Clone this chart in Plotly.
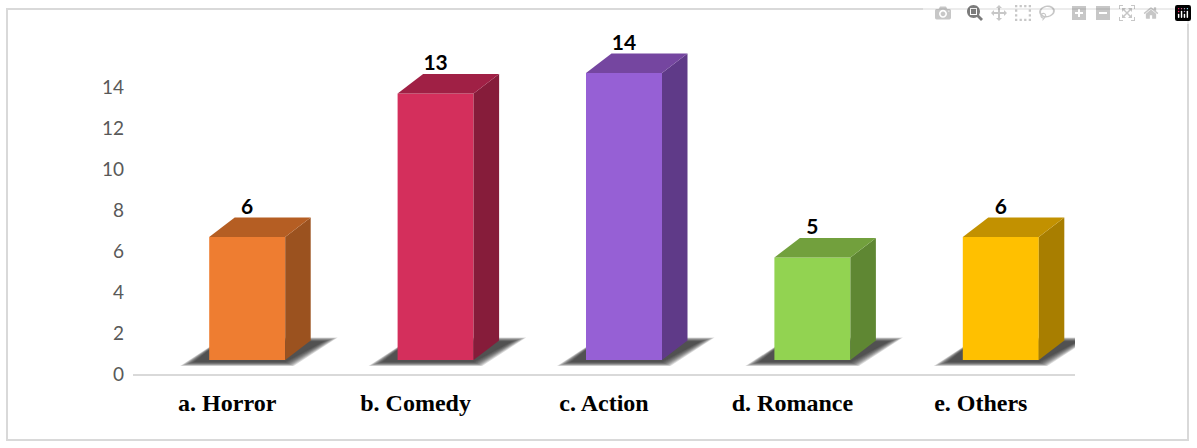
import plotly.graph_objects as go

categories = ["a. Horror", "b. Comedy", "c. Action", "d. Romance", "e. Others"]
values = [6, 13, 14, 5, 6]
front_colors = ["#EE7D31", "#D42F5C", "#9660D5", "#92D351", "#FFC000"]
top_colors = ["#B55E23", "#A02045", "#7546A0", "#72A03D", "#C29100"]
side_colors = ["#9B521F", "#861C3A", "#5F3A88", "#5F8733", "#A87E00"]

W, H = 1197, 448
L, R, T, B = 133, 122, 20, 74
PX_X = (W - L - R) / 5.0       # pixels per category
PX_Y = 20.5                    # pixels per y unit
y_top = (H - B - T) / PX_Y

floor = 14 / PX_Y              # bars stand above the axis line
shift = 20 / PX_X              # front face shift from category centre
half = 38 / PX_X
depth_x = 25.5 / PX_X
depth_y = 19.5 / PX_Y

fig = go.Figure()
shapes = []

def path(pts):
    return "M " + " L ".join(f"{a:.4f},{b:.4f}" for a, b in pts) + " Z"

# blurred floor shadow: stacked translucent parallelograms
layers = 9
for i, v in enumerate(values):
    c = i + shift
    for k in range(layers):
        g = 1 - k / (layers - 1)
        gx = g * 14 / PX_X
        gy = g * 4 / PX_Y
        x0 = c - half - 15 / PX_X
        x1 = c + half
        y0 = floor - 2 / PX_Y
        pts = [
            (x0 - gx, y0 - gy),
            (x1 + gx * 0.6, y0 - gy),
            (x1 + depth_x + 13 / PX_X + gx, y0 + depth_y + 1 / PX_Y + gy),
            (x0 + depth_x + gx * 0.3, y0 + depth_y + 1 / PX_Y + gy),
        ]
        shapes.append(dict(type="path", path=path(pts), xref="x", yref="y", layer="below",
                           fillcolor="rgba(40,40,40,0.17)", line=dict(width=0)))

# front faces
fig.add_trace(go.Bar(
    x=[i + shift for i in range(len(values))],
    y=values,
    base=[floor] * len(values),
    width=2 * half,
    marker=dict(color=front_colors, line=dict(width=0)),
    hoverinfo="skip",
))

# side and top faces
for i, v in enumerate(values):
    c = i + shift
    ytop = floor + v
    fig.add_trace(go.Scatter(
        x=[c + half, c + half + depth_x, c + half + depth_x, c + half, c + half],
        y=[floor, floor + depth_y, ytop + depth_y, ytop, floor],
        mode="lines", fill="toself", fillcolor=side_colors[i],
        line=dict(width=0), hoverinfo="skip",
    ))
    fig.add_trace(go.Scatter(
        x=[c - half, c + half, c + half + depth_x, c - half + depth_x, c - half],
        y=[ytop, ytop, ytop + depth_y, ytop + depth_y, ytop],
        mode="lines", fill="toself", fillcolor=top_colors[i],
        line=dict(width=0), hoverinfo="skip",
    ))

# value labels
fig.add_trace(go.Scatter(
    x=[i + shift for i in range(len(values))],
    y=[v + floor + 1.38 for v in values],
    mode="text",
    text=[str(v) for v in values],
    textposition="middle center",
    textfont=dict(family="Lato", size=21, color="#000000", weight="bold"),
    hoverinfo="skip",
))

# outer frame
shapes.append(dict(type="rect", xref="paper", yref="paper", layer="below",
                   x0=(7 - L) / (W - L - R), x1=(1188 - L) / (W - L - R),
                   y0=(H - B - 440) / (H - B - T), y1=(H - B - 9) / (H - B - T),
                   fillcolor="rgba(0,0,0,0)", line=dict(color="#D9D9D9", width=2)))

fig.update_layout(
    width=W, height=H,
    margin=dict(l=L, r=R, t=T, b=B, pad=0),
    paper_bgcolor="#FFFFFF", plot_bgcolor="#FFFFFF",
    showlegend=False,
    shapes=shapes,
    xaxis=dict(
        range=[-0.5, 4.5], tickmode="array",
        tickvals=list(range(len(categories))), ticktext=categories,
        showgrid=False, zeroline=False, showline=True,
        linecolor="#D9D9D9", linewidth=2, ticks="",
        tickfont=dict(family="Liberation Serif", size=24, color="#000000", weight="bold"),
        ticklabelstandoff=6,
    ),
    yaxis=dict(
        range=[0, y_top], tickmode="array", tickvals=list(range(0, 15, 2)),
        showgrid=False, zeroline=False, showline=False, ticks="",
        tickfont=dict(family="Lato", size=19, color="#595959"),
        ticklabelstandoff=8,
    ),
)

fig.write_html("out.html", post_script="document.body.style.margin='0';")
